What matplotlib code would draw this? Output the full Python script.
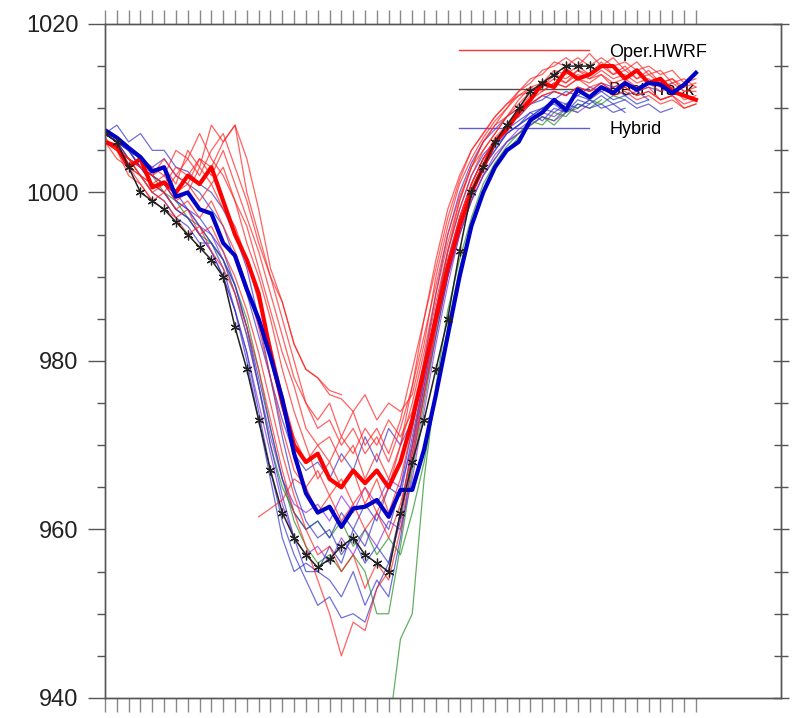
import numpy as np
import matplotlib.pyplot as plt
from matplotlib.lines import Line2D
from matplotlib.ticker import MultipleLocator

plt.rcParams['font.family'] = ['Liberation Sans', 'DejaVu Sans']

# 6-hourly minimum sea level pressure (hPa)
best_track = [1007, 1006, 1003, 1000, 999, 998, 996.5, 995, 993.5, 992, 990, 984, 979, 973,
              967, 962, 959, 957, 955.5, 956.5, 958, 959, 957, 956, 955, 962, 968, 973, 979,
              985, 993, 1000, 1003, 1006, 1008, 1010, 1012, 1013, 1014, 1015, 1015, 1015]

oper_hwrf = [1006, 1005.5, 1003, 1004, 1000.6, 1001.2, 1000, 1002, 1001, 1003, 999, 995, 992,
             988, 981, 975, 970, 968, 969, 966, 965, 967, 965.5, 967, 965, 968, 973, 979, 985,
             991, 996, 1000, 1003, 1006, 1007.5, 1009.5, 1011, 1013, 1012.5, 1014.5, 1013.5,
             1014, 1015, 1015, 1013.5, 1014.5, 1013, 1013.5, 1012, 1011.5, 1011]

hybrid = [1007.4, 1006.5, 1005.3, 1004.2, 1002.5, 1003, 999.5, 1000, 998, 997.5, 994, 992.5,
          988.5, 985, 980.5, 975.5, 969, 964.3, 962, 962.7, 960.3, 962.5, 962.7, 963.5, 961.5,
          964.7, 964.7, 969.5, 976, 983, 990, 996, 1000, 1003, 1005, 1006, 1008.6, 1009.5,
          1011, 1009.8, 1012.2, 1011.3, 1012.5, 1011.8, 1013, 1012.2, 1013, 1012.8, 1011.8,
          1012.8, 1014.2]

# ensemble members: (start index, values)
red_members = [
    (0, [1006, 1005, 1004, 1003, 1002, 1003, 1001, 1005, 1003, 1008, 1006, 1008, 1000, 995, 990,
         987, 982, 979, 978, 976, 975.5, 974, 976, 973, 975, 974, 976, 982, 990, 996, 1001, 1004,
         1006.5, 1008.5, 1010, 1012, 1013, 1014.5, 1015, 1016, 1015, 1016.5, 1015, 1016, 1014.5,
         1015.5, 1014, 1014.5, 1013, 1013.5, 1012.5]),
    (0, [1006, 1005.5, 1004, 1002, 1001, 1000, 1002, 1001, 1004, 1002, 1005, 1001, 997, 993, 988,
         983, 978, 975, 972, 973, 970, 972, 969, 971, 968, 972, 977, 983, 989, 995, 999.5, 1003,
         1006, 1008, 1009, 1011, 1012.5, 1013, 1014.5, 1014, 1015, 1014, 1015.5, 1014, 1015,
         1013.5, 1014.5, 1013, 1013.5, 1012, 1012.5]),
    (0, [1006, 1005, 1003, 1001, 999, 998, 997, 995, 996, 993, 991, 988, 984, 979, 973, 967, 962,
         958, 954, 950, 945, 949, 948, 953, 955, 962, 970, 978, 986, 993, 999, 1003, 1006, 1008,
         1010, 1011.5, 1012, 1013, 1014, 1013, 1014.5, 1013.5, 1014, 1012.5, 1013, 1012, 1012.5,
         1011, 1011.5, 1010, 1010.5]),
    (0, [1006, 1004, 1003, 1002, 1000, 1001, 999, 1000, 1003, 1001, 1003, 999, 994, 990, 985, 979,
         974, 970, 966, 968, 965, 967, 963, 966, 962, 966, 972, 979, 986, 992, 997, 1001, 1004,
         1006, 1008, 1009.5, 1011, 1012, 1013, 1012.5, 1013.5, 1013, 1014, 1013, 1013.5, 1012.5,
         1013, 1012, 1012.5, 1011, 1011.5]),
    (0, [1006, 1005, 1004, 1003, 1002, 1004, 1002, 1004, 1002, 1005, 1007, 1003, 999, 994, 990,
         985, 980, 975, 973, 975, 971, 974, 970, 972, 969, 973, 979, 985, 991, 997, 1001.5, 1005,
         1007, 1009, 1010.5, 1012, 1013.5, 1014, 1015.5, 1015, 1016, 1015, 1016, 1015, 1015.5,
         1014.5, 1015, 1014, 1014.5, 1013, 1013.5]),
    (0, [1006.5, 1005, 1002, 1001, 999, 1000, 998, 999, 997, 999, 996, 993, 989, 984, 978, 972,
         967, 965, 962, 964, 961, 963, 960, 962, 959, 963, 969, 976, 984, 991, 997, 1001, 1004,
         1006, 1008, 1009, 1010.5, 1011.5, 1012, 1011.5, 1012.5, 1012, 1013, 1012, 1012.5, 1011.5,
         1012, 1011, 1011.5, 1010.5, 1011]),
    (0, [1006, 1005, 1004, 1003, 1002, 1001, 1003, 1002, 1004, 1003, 1006, 1008, 1004, 998, 991,
         987, 982, 979, 978, 976.5, 976]),
    (0, [1006, 1005, 1004, 1003, 1003, 1002, 1005, 1004, 1007, 1004, 1002, 999, 996, 991, 986,
         981, 977, 972, 970, 971, 968, 970, 966, 969, 966, 970, 975, 981, 988, 994, 999, 1003,
         1005, 1007, 1009, 1010, 1011.5, 1012.5, 1013.5, 1013, 1014, 1013.5, 1014.5, 1013.5, 1014,
         1013, 1013.5, 1012.5, 1013, 1012, 1012]),
    (13, [961.5, 962.5, 963.5, 966, 965, 967, 964, 966, 963, 965, 962, 965, 970, 977, 985, 992,
          998, 1002, 1005, 1007, 1009, 1010.5, 1011.5, 1012.5, 1012, 1013, 1012.5, 1013.5, 1012.5,
          1013, 1012, 1012.5, 1011.5, 1012, 1011, 1011.5]),
    (0, [1006, 1005, 1003, 1002, 1000, 999, 997, 998, 995, 996, 993, 990, 986, 981, 975, 969, 964,
         960, 957, 958, 955, 957, 953, 956, 954, 960, 968, 976, 984, 991, 997, 1001, 1004, 1006.5,
         1008, 1009.5, 1010.5, 1011.5, 1012, 1011.5, 1012.5, 1012, 1012.5, 1011.5, 1012, 1011,
         1011.5, 1010.5, 1011, 1010, 1010.5]),
    (0, [1006, 1005, 1004, 1002, 1001, 1002, 1000, 1001, 999, 1001, 998, 996, 992, 987, 982, 976,
         971, 968, 970, 968, 971, 969, 972, 970, 973, 971, 974, 980, 987, 993, 998, 1002, 1005,
         1007, 1009, 1010.5, 1012, 1012.5, 1014, 1013.5, 1014.5, 1014, 1015, 1014, 1014.5, 1013.5,
         1014, 1013, 1013.5, 1012.5, 1013]),
]

blue_members = [
    (0, [1007, 1008, 1006, 1007, 1005, 1005, 1003, 1002.5, 1001, 1000, 998, 995, 991, 985, 978,
         971, 965, 961, 959, 960, 957, 959, 956, 958, 956, 961, 969, 977, 985, 991, 996, 1000,
         1003, 1005, 1007, 1008, 1009.5, 1010, 1011, 1010.5, 1011.5, 1011, 1012, 1011, 1011.5,
         1010.5, 1011]),
    (0, [1007, 1006, 1004, 1002, 1000, 999, 997, 996, 994, 994, 992, 989, 984, 977, 970, 964, 959,
         955, 955, 954, 952, 955, 951, 954, 952, 959, 968, 976, 983, 990, 996, 1000, 1003, 1005.5,
         1007, 1008, 1009, 1010, 1009.5, 1010.5, 1010, 1011, 1010, 1010.5, 1009.5]),
    (0, [1007, 1006, 1005, 1003, 1001, 1000, 998, 997, 995, 993, 990, 986, 981, 974, 967, 961,
         957, 954, 951, 952, 949.5, 950, 949, 953, 956, 962, 970, 978, 986, 993, 998, 1002,
         1004.5, 1006, 1007.5, 1008.5, 1009.5, 1008.5, 1010, 1009.5, 1010.5, 1010, 1010.5, 1009.5,
         1010]),
    (0, [1007, 1006, 1005, 1004, 1002, 1001, 999, 998, 996, 994, 991, 986, 980, 973, 966, 959,
         955, 956, 955, 958, 956, 960, 958, 962, 960, 965, 972, 980, 988, 995, 1000, 1003.5, 1006,
         1007.5, 1009, 1010, 1010.5, 1011.5, 1011, 1012, 1011.5, 1012.5, 1012, 1012.5, 1011.5,
         1012, 1011]),
    (0, [1007, 1006.5, 1005, 1004, 1003, 1004, 1002, 1001, 1000, 998, 996, 992, 988, 983, 978,
         973, 969, 967, 968, 966, 969, 967, 971, 968, 972, 970, 973, 979, 986, 992, 997, 1001,
         1004, 1006, 1008, 1009, 1010.5, 1011, 1012, 1011.5, 1012.5, 1012, 1013, 1012.5, 1013,
         1012, 1012.5, 1012, 1013]),
    (0, [1007, 1006, 1005, 1003, 1002, 1001, 1000, 998, 997, 995, 993, 989, 984, 978, 972, 966,
         962, 960, 961, 959, 962, 960, 963, 961, 965, 964, 971, 978, 985, 991, 996, 1000, 1003,
         1005, 1007, 1008, 1009, 1010, 1010.5, 1009.5, 1011, 1010.5, 1011.5, 1010.5, 1011, 1010,
         1010.5, 1009.5, 1010]),
]

green_members = [
    (0, [1007, 1006, 1004, 1003, 1001, 1000, 998, 997, 995, 994, 992, 988, 983, 977, 970, 965,
         962, 960, 961, 959, 961, 958, 960, 957, 959, 957, 962, 968, 976, 984, 991, 996, 1000,
         1003, 1005, 1006.5, 1008, 1009, 1008, 1009.5, 1010, 1011, 1010.5, 1011.5, 1011]),
    (0, [1007, 1006, 1005, 1003, 1002, 1000, 999, 997, 996, 994, 992, 989, 985, 979, 972, 966,
         961, 958, 956, 957, 955, 957, 955, 950, 950, 958, 967, 975, 983, 990, 995, 999, 1002,
         1004, 1006, 1007, 1008.5, 1008, 1009.5, 1009, 1010.5, 1010, 1011]),
    (24, [936, 947, 950, 966, 977, 986, 992, 997, 1001, 1003.5, 1005.5, 1007, 1008, 1009,
          1008.5, 1010, 1009.5]),
]

purple_members = [
    (0, [1007, 1006, 1005, 1003, 1002, 1001, 999, 998, 996, 995, 992, 988, 983, 977, 971, 966,
         963, 962, 963, 961, 964, 962, 965, 963, 966, 965, 970, 977, 984, 990, 995, 999, 1002,
         1004, 1006, 1007.5, 1008.5, 1009.5, 1009, 1010, 1009.5, 1010.5]),
    (0, [1007, 1006, 1004, 1003, 1001, 1000, 998, 997, 995, 993, 990, 986, 981, 975, 969, 963,
         959, 957, 958, 956, 959, 957, 960, 958, 961, 960, 966, 974, 982, 989, 995, 999, 1002,
         1004.5, 1006, 1007, 1008, 1009, 1008.5, 1009.5]),
]


def draw_members(ax, members, color, lw=0.9, alpha=0.7):
    for start, vals in members:
        x = np.arange(start, start + len(vals))
        ax.plot(x, vals, color=color, lw=lw, alpha=alpha)


fig = plt.figure(figsize=(7.92, 7.18), dpi=100)
ax = fig.add_axes([0.1326, 0.0279, 0.8535, 0.9387])

draw_members(ax, green_members, '#1f8f1f')
draw_members(ax, purple_members, '#8a2be2')
draw_members(ax, blue_members, '#3333cc')
draw_members(ax, red_members, '#ff2020')

ax.plot(np.arange(len(oper_hwrf)), oper_hwrf, color='#ff0000', lw=3)
ax.plot(np.arange(len(hybrid)), hybrid, color='#0000c8', lw=3)
ax.plot(np.arange(len(best_track)), best_track, color='#222222', lw=1.1,
        marker=(6, 2, 0), ms=7, mew=0.9)

ax.set_xlim(0, 57.2)
ax.set_ylim(940, 1020)

# y axis: outward ticks on the left, crossing ticks on the right
ax.yaxis.set_major_locator(MultipleLocator(20))
ax.yaxis.set_minor_locator(MultipleLocator(5))
ax.tick_params(axis='y', which='major', direction='out', length=12, width=1,
               color='#555555', labelsize=17, pad=7, labelcolor='#222222')
ax.tick_params(axis='y', which='minor', direction='out', length=6, width=1, color='#555555')
ax2 = ax.twinx()
ax2.set_ylim(940, 1020)
ax2.yaxis.set_major_locator(MultipleLocator(20))
ax2.yaxis.set_minor_locator(MultipleLocator(5))
ax2.tick_params(axis='y', which='both', direction='inout', length=12, width=1,
                color='#555555', labelright=False)
ax2.tick_params(axis='y', which='minor', length=10)

# x axis: unlabelled 6-hourly ticks top and bottom
ax.set_xticks(np.arange(0, 51))
ax.tick_params(axis='x', which='major', direction='out', length=10, width=1,
               color='#888888', top=True, bottom=True, labelbottom=False)

for a in (ax, ax2):
    for s in a.spines.values():
        s.set_color('#555555')
        s.set_linewidth(1)

handles = [Line2D([], [], color='#ff0000', lw=1, alpha=0.8),
           Line2D([], [], color='#222222', lw=1, alpha=0.8),
           Line2D([], [], color='#3333cc', lw=1, alpha=0.8)]
leg = ax.legend(handles, ['Oper.HWRF', 'Best Track', 'Hybrid'], loc='upper left',
                bbox_to_anchor=(0.5, 0.995), frameon=False, fontsize=13,
                handlelength=7.2, handletextpad=1.1, labelspacing=1.2)
leg.set_zorder(0)

fig.savefig('out.png', dpi=100)
